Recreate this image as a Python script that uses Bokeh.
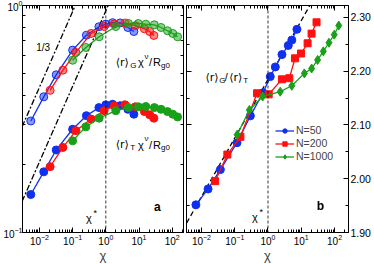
from bokeh.plotting import figure
from bokeh.layouts import row
from bokeh.models import (Range1d, FixedTicker, LogAxis, LinearAxis, Span, Label,
                          Legend, LegendItem, PrintfTickFormatter, CustomJSTickFormatter)
from bokeh.embed import file_html
from bokeh.resources import INLINE

FONT = "Liberation Sans"
BFONT = "DejaVu Sans"

# ---------------- data : panel a ----------------
blue_x_a = [0.0055, 0.0135, 0.032, 0.10, 0.26, 0.62, 1.0, 1.6, 2.7, 4.6, 7.0]
blue_G = [0.310, 0.396, 0.495, 0.636, 0.740, 0.806, 0.828, 0.840, 0.838, 0.800, 0.768]
blue_T = [0.147, 0.185, 0.231, 0.285, 0.327, 0.355, 0.365, 0.367, 0.362, 0.349, 0.332]

red_x_a = [0.021, 0.051, 0.126, 0.36, 0.89, 1.8, 3.8, 7.8, 14.5, 21, 28]
red_G = [0.423, 0.519, 0.621, 0.753, 0.808, 0.829, 0.836, 0.815, 0.790, 0.768, 0.738]
red_T = [0.195, 0.237, 0.281, 0.316, 0.344, 0.361, 0.365, 0.358, 0.341, 0.330, 0.319]

green_x_a = [0.10, 0.25, 0.63, 2.0, 4.8, 9.5, 16, 29, 46, 72, 104, 145]
green_G = [0.574, 0.653, 0.728, 0.808, 0.833, 0.833, 0.827, 0.822, 0.800, 0.774, 0.753, 0.728]
green_T = [0.2535, 0.292, 0.319, 0.344, 0.355, 0.358, 0.359, 0.355, 0.349, 0.341, 0.332, 0.323]

slope_a_x = [0.003, 0.12]
slope_a_y = [0.292, 1.0]
slope_b_x = [0.003, 1.175]
slope_b_y = [0.137, 1.0]

# ---------------- data : panel b ----------------
blue_x_b = [0.0068, 0.0158, 0.037, 0.117, 0.295, 0.71, 1.17, 1.66, 2.63, 4.07, 5.2, 7.4]
blue_ratio = [1.9515, 1.981, 2.017, 2.067, 2.117, 2.160, 2.190, 2.208, 2.231, 2.248, 2.258, 2.278]

red_x_b = [0.0257, 0.060, 0.148, 0.47, 1.05, 2.63, 4.37, 6.5, 9.8, 15.5, 20.4, 28.8]
red_ratio = [1.9955, 2.045, 2.078, 2.159, 2.157, 2.185, 2.187, 2.224, 2.233, 2.252, 2.270, 2.291]

green_x_b = [0.118, 0.276, 0.69, 2.33, 5.2, 12.4, 20.5, 31, 46, 68, 98, 134]
green_ratio = [2.082, 2.128, 2.153, 2.162, 2.173, 2.196, 2.205, 2.221, 2.237, 2.253, 2.268, 2.285]

guide_x = [0.0036, 20]
guide_y = [1.918, 2.327]

legend_labels = ["N=50", "N=200", "N=1000"]
chi_star = 1.0

x_major = [0.01, 0.1, 1, 10, 100]
x_minor = [m * 10.0 ** k for k in range(-3, 3) for m in range(2, 10)]
yl_major = [0.1, 1.0]
yl_minor = [m / 10 for m in range(2, 10)]
yr_major = [1.90, 2.00, 2.10, 2.20, 2.30]
yr_minor = [1.95, 2.05, 2.15, 2.25]

BLUE = "#1030f0"
RED = "#ff1010"
GREEN = "#19a019"

EMPTY = CustomJSTickFormatter(code="return '';")


def style_axis(ax, labels=True):
    ax.major_tick_in = 5
    ax.major_tick_out = 0
    ax.minor_tick_in = 3
    ax.minor_tick_out = 0
    ax.axis_line_color = "black"
    ax.major_tick_line_color = "black"
    ax.minor_tick_line_color = "black"
    ax.major_label_text_font = FONT
    ax.major_label_text_color = "black"
    ax.major_label_text_font_size = "10px"
    if labels:
        ax.major_label_standoff = 1
    else:
        ax.formatter = EMPTY
        ax.major_label_standoff = 0


def Lxy(px, py):
    return 10 ** ((px - 105) / 33.4), 10 ** (-(py - 8) / 227)


def Rxy(px, py):
    return 10 ** ((px - 268) / 33.5), 2.30 - (py - 20) / 537.5


def put(p, conv, txt, px, py, size, style="normal", font=FONT):
    x, y = conv(px, py)
    p.add_layout(Label(x=x, y=y, text=txt, text_font=font, text_font_size=size,
                       text_font_style=style, text_baseline="alphabetic",
                       text_align="left", text_color="black"))


# ---------------- panel a ----------------
p1 = figure(frame_width=161, frame_height=227, x_axis_type="log", y_axis_type="log",
            x_range=Range1d(10 ** -2.51, 10 ** 2.34), y_range=Range1d(0.1, 1.0),
            output_backend="svg", toolbar_location=None,
            min_border_left=0, min_border_right=2, min_border_top=5, min_border_bottom=0)
p1.grid.visible = False
p1.outline_line_color = "black"
p1.xaxis[0].ticker = FixedTicker(ticks=x_major, minor_ticks=x_minor)
p1.yaxis[0].ticker = FixedTicker(ticks=yl_major, minor_ticks=yl_minor)
style_axis(p1.xaxis[0])
style_axis(p1.yaxis[0])
p1.yaxis[0].major_label_standoff = 0
p1.xaxis[0].axis_label = "χ"
p1.xaxis[0].axis_label_text_font = FONT
p1.xaxis[0].axis_label_text_font_size = "13px"
p1.xaxis[0].axis_label_text_font_style = "normal"
p1.xaxis[0].axis_label_standoff = 0
top1 = LogAxis(ticker=FixedTicker(ticks=x_major, minor_ticks=x_minor))
style_axis(top1, labels=False)
p1.add_layout(top1, "above")
right1 = LogAxis(ticker=FixedTicker(ticks=yl_major, minor_ticks=yl_minor))
style_axis(right1, labels=False)
p1.add_layout(right1, "right")

p1.line(slope_a_x, slope_a_y, line_color="black", line_width=1.3, line_dash="6 2 2 2")
p1.line(slope_b_x, slope_b_y, line_color="black", line_width=1.3, line_dash="6 2 2 2")
p1.add_layout(Span(location=chi_star, dimension="height", line_color="black",
                   line_width=0.8, line_dash="3 2"))

for xs, ys, c in [(blue_x_a, blue_G, BLUE), (red_x_a, red_G, RED), (green_x_a, green_G, GREEN)]:
    p1.line(xs, ys, line_color=c, line_width=1.3)
    p1.scatter(xs, ys, marker="circle", size=8, fill_color=c, fill_alpha=0.5,
               line_color=c, line_width=1.0)
for xs, ys, c in [(blue_x_a, blue_T, BLUE), (red_x_a, red_T, RED), (green_x_a, green_T, GREEN)]:
    p1.line(xs, ys, line_color=c, line_width=1.3)
    p1.scatter(xs, ys, marker="circle", size=8, fill_color=c, line_color=c)

put(p1, Lxy, "1/3", 35, 50, "10px")
for txt, px, dy, size, f in [("⟨r⟩", 115, 0, "11px", BFONT), ("G", 129.5, 3, "8px", FONT),
                             ("χ", 137.5, 0, "11px", FONT), ("ν", 144, -6, "8px", FONT),
                             ("/", 148.5, 0, "11px", FONT), ("R", 152.5, 0, "11px", FONT),
                             ("g0", 160.5, 3, "8px", FONT)]:
    put(p1, Lxy, txt, px, 64.5 + dy, size, font=f)
    put(p1, Lxy, txt.replace("G", "T"), px, 147 + dy, size, font=f)
put(p1, Lxy, "χ", 85, 220, "11px")
put(p1, Lxy, "*", 92.5, 215, "9px")
put(p1, Lxy, "a", 153.5, 209, "12px", "bold")

# ---------------- panel b ----------------
p2 = figure(frame_width=162, frame_height=227, x_axis_type="log", y_axis_location="right",
            x_range=Range1d(10 ** -2.45, 10 ** 2.42), y_range=Range1d(1.90, 2.3223),
            output_backend="svg", toolbar_location=None,
            min_border_left=1, min_border_right=0, min_border_top=5, min_border_bottom=0)
p2.grid.visible = False
p2.outline_line_color = "black"
p2.xaxis[0].ticker = FixedTicker(ticks=x_major, minor_ticks=x_minor)
p2.yaxis[0].ticker = FixedTicker(ticks=yr_major, minor_ticks=yr_minor)
p2.yaxis[0].formatter = PrintfTickFormatter(format="%.2f")
style_axis(p2.xaxis[0])
style_axis(p2.yaxis[0])
p2.yaxis[0].major_label_standoff = 2
p2.yaxis[0].major_label_text_font_size = "10.5px"
p2.xaxis[0].axis_label = "χ"
p2.xaxis[0].axis_label_text_font = FONT
p2.xaxis[0].axis_label_text_font_size = "13px"
p2.xaxis[0].axis_label_text_font_style = "normal"
p2.xaxis[0].axis_label_standoff = 0
top2 = LogAxis(ticker=FixedTicker(ticks=x_major, minor_ticks=x_minor))
style_axis(top2, labels=False)
p2.add_layout(top2, "above")
left2 = LinearAxis(ticker=FixedTicker(ticks=yr_major, minor_ticks=yr_minor))
style_axis(left2, labels=False)
p2.add_layout(left2, "left")

p2.line(guide_x, guide_y, line_color="black", line_width=1.3, line_dash="5 3")
p2.add_layout(Span(location=chi_star, dimension="height", line_color="black",
                   line_width=0.8, line_dash="3 2"))

items = []
for xs, ys, c, mk, sz, lab in [(blue_x_b, blue_ratio, BLUE, "circle", 8, legend_labels[0]),
                               (red_x_b, red_ratio, RED, "square", 7, legend_labels[1]),
                               (green_x_b, green_ratio, GREEN, "diamond", 9, legend_labels[2])]:
    lr = p2.line(xs, ys, line_color=c, line_width=1.3)
    sr = p2.scatter(xs, ys, marker=mk, size=sz, fill_color=c, line_color=c)
    items.append(LegendItem(label=lab, renderers=[lr, sr]))

leg = Legend(items=items, location=(89, 70), label_text_font=FONT, label_text_font_size="10.5px",
             glyph_width=19, glyph_height=11, spacing=1, padding=0, margin=0,
             label_standoff=2, border_line_color=None, background_fill_alpha=0,
             label_height=11)
p2.add_layout(leg, "center")

for txt, px, dy, size, f in [("⟨r⟩", 205, 0, "11px", BFONT), ("G", 219, 3.5, "8px", FONT),
                             ("/", 224.5, 0, "11px", FONT), ("⟨r⟩", 229, 0, "11px", BFONT),
                             ("T", 243, 3.5, "8px", FONT)]:
    put(p2, Rxy, txt, px, 80 + dy, size, font=f)
put(p2, Rxy, "χ", 252, 220, "11px")
put(p2, Rxy, "*", 259.5, 215, "9px")
put(p2, Rxy, "b", 317, 209, "12px", "bold")

layout = row(p1, p2)
open("out.html", "w").write(file_html(layout, INLINE))
